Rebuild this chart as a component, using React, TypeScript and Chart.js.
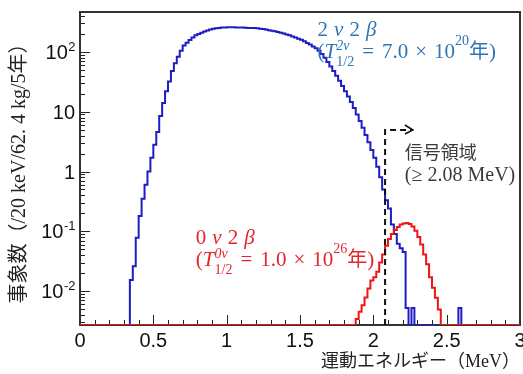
import React, { useEffect, useRef } from 'react';
import { Chart, registerables } from 'chart.js';

Chart.register(...registerables);

// ---------- data ----------
const NBINS = 150;
const BIN_WIDTH = 0.02; // MeV (20 keV bins)
const X_MIN = 0;
const X_MAX = 3;
const Y_MIN = 0.0027;
const Y_MAX = 467;

const xTickValues = [0, 0.5, 1, 1.5, 2, 2.5, 3];
const xTickLabels = ['0', '0.5', '1', '1.5', '2', '2.5', '3'];
const yTickValues = [0.01, 0.1, 1, 10, 100];
const yTickBase = ['10', '10', '1', '10', '10'];
const yTickExp = ['-2', '-1', '', '', '2'];

// 2νββ histogram: counts per bin, starting at bin BLUE_FIRST_BIN (0.34 MeV)
const BLUE_FIRST_BIN = 17;
const blueCounts = [
  0.0153, 0.026, 0.078, 0.18, 0.35, 0.6, 1.0, 1.7, 2.8, 4.6,
  8.5, 14, 22, 32, 48, 65, 83, 105, 128, 143,
  159, 175, 190, 200, 210, 221, 230, 237, 244, 250,
  253, 256, 258,
  260, 260, 259, 258, 257, 256, 254, 253, 252, 251,
  249, 246, 242, 237, 232, 227, 222, 216, 210, 204,
  197, 190, 182, 175, 167, 160, 151, 142, 133, 124,
  115, 105, 93, 80, 68, 57, 48, 40, 33, 27,
  22, 18, 14.5, 11.5, 9, 7, 5.4, 4.1, 3.1, 2.3,
  1.7, 1.2, 0.8, 0.5, 0.33, 0.24, 0.13, 0.09, 0.062, 0.052,
  0.045,
  0.0052, 0, 0.0052,
  0, 0, 0, 0, 0, 0, 0, 0, 0, 0, 0, 0, 0, 0, 0,
  0.0052,
];

// 0νββ histogram, starting at bin RED_FIRST_BIN (1.88 MeV)
const RED_FIRST_BIN = 94;
const redCounts = [
  0.0034, 0.0045, 0.0058, 0.0078, 0.011, 0.015, 0.017, 0.021, 0.030, 0.041,
  0.057, 0.074, 0.090, 0.105, 0.118, 0.130, 0.135, 0.137, 0.132, 0.120,
  0.102, 0.080, 0.060, 0.041, 0.028, 0.017, 0.0113, 0.0077, 0.0049,
];

const SIGNAL_THRESHOLD = 2.08; // MeV
const SIGNAL_LINE_TOP = 4.95; // y value where dashed line turns
const SIGNAL_ARROW_END = 2.27; // MeV

const yTitle = '事象数（/20 keV/62. 4 kg/5年）';
const xTitle = '運動エネルギー（MeV）';

// ---------- styles ----------
const BLUE_LINE = '#1d1dc6';
const RED_LINE = '#f01515';
const BLUE_TEXT = '#2e75b6';
const RED_TEXT = '#e3262b';
const SERIF = "'Liberation Serif', 'DejaVu Serif', 'Noto Sans CJK JP', serif";
const CJK = "'Noto Sans CJK JP', sans-serif";
const SANS = "'Liberation Sans', Arial, sans-serif";

function histPoints(first: number, counts: number[]) {
  const pts: { x: number; y: number }[] = [];
  for (let i = 0; i < NBINS; i++) {
    const j = i - first;
    const v = j >= 0 && j < counts.length ? counts[j] : 0;
    pts.push({ x: i * BIN_WIDTH, y: v > 0 ? v : Y_MIN });
  }
  pts.push({ x: NBINS * BIN_WIDTH, y: pts[pts.length - 1].y });
  return pts;
}

type Seg =
  | { t: string; size: number; italic?: boolean; dy?: number; family?: string; padL?: number; padR?: number }
  | { sup: string; sub: string; size: number; supDy: number; subDy: number };

function fontStr(size: number, italic?: boolean, family?: string) {
  return `${italic ? 'italic ' : ''}${size}px ${family || SERIF}`;
}

function drawRich(ctx: CanvasRenderingContext2D, x: number, y: number, segs: Seg[], color: string) {
  ctx.fillStyle = color;
  ctx.textAlign = 'left';
  ctx.textBaseline = 'alphabetic';
  let cx = x;
  for (const s of segs) {
    if ('sup' in s) {
      ctx.font = fontStr(s.size, true);
      const w1 = ctx.measureText(s.sup).width;
      ctx.fillText(s.sup, cx, y + s.supDy);
      ctx.font = fontStr(s.size, false);
      const w2 = ctx.measureText(s.sub).width;
      ctx.fillText(s.sub, cx, y + s.subDy);
      cx += Math.max(w1, w2);
    } else {
      ctx.font = fontStr(s.size, s.italic, s.family);
      cx += s.padL || 0;
      ctx.fillText(s.t, cx, y + (s.dy || 0));
      cx += ctx.measureText(s.t).width + (s.padR || 0);
    }
  }
}

const blueLine1: Seg[] = [
  { t: '2', size: 21 },
  { t: 'ν', size: 21, italic: true, padL: 6, padR: 6 },
  { t: '2', size: 21 },
  { t: 'β', size: 21, italic: true, padL: 6 },
];
const blueLine2: Seg[] = [
  { t: '(', size: 21 },
  { t: 'T', size: 21, italic: true },
  { sup: '2ν', sub: '1/2', size: 14, supDy: -8, subDy: 8 },
  { t: '=', size: 21, padL: 8, padR: 8 },
  { t: '7.0', size: 21 },
  { t: '×', size: 21, padL: 7, padR: 7 },
  { t: '10', size: 21 },
  { t: '20', size: 14, dy: -13 },
  { t: '年', size: 20, family: CJK },
  { t: ')', size: 21 },
];
const redLine1: Seg[] = [
  { t: '0', size: 21 },
  { t: 'ν', size: 21, italic: true, padL: 6, padR: 6 },
  { t: '2', size: 21 },
  { t: 'β', size: 21, italic: true, padL: 6 },
];
const redLine2: Seg[] = [
  { t: '(', size: 21 },
  { t: 'T', size: 21, italic: true },
  { sup: '0ν', sub: '1/2', size: 14, supDy: -8, subDy: 8 },
  { t: '=', size: 21, padL: 8, padR: 8 },
  { t: '1.0', size: 21 },
  { t: '×', size: 21, padL: 7, padR: 7 },
  { t: '10', size: 21 },
  { t: '26', size: 14, dy: -13 },
  { t: '年', size: 20, family: CJK },
  { t: ')', size: 21 },
];

// annotation anchors in data coordinates (MeV, events)
const BLUE_LABEL_AT = { x: 1.62, y: 185 };
const RED_LABEL_AT = { x: 0.79, y: 0.061 };
const SIGNAL_LABEL_AT = { x: 2.215, y: 1.65 };
const LINE_GAP = 22;

const framePlugin = {
  id: 'rootFrame',
  beforeDatasetsDraw(chart: any) {
    const { ctx, chartArea, scales } = chart;
    const { left, right, top, bottom } = chartArea;
    const xs = scales.x;
    const ys = scales.y;
    ctx.save();
    ctx.strokeStyle = '#222';
    ctx.lineWidth = 1;
    // x ticks (inside)
    for (let k = 0; k <= 30; k++) {
      const v = k / 10;
      const px = Math.round(xs.getPixelForValue(v)) + 0.5;
      const len = k % 5 === 0 ? 10 : 5;
      ctx.beginPath();
      ctx.moveTo(px, bottom);
      ctx.lineTo(px, bottom - len);
      ctx.stroke();
    }
    // y ticks (log, inside)
    for (let d = -3; d <= 2; d++) {
      for (let m = 1; m <= 9; m++) {
        const v = m * Math.pow(10, d);
        if (v < Y_MIN || v > Y_MAX) continue;
        const py = Math.round(ys.getPixelForValue(v)) + 0.5;
        const len = m === 1 ? 10 : 5;
        ctx.beginPath();
        ctx.moveTo(left, py);
        ctx.lineTo(left + len, py);
        ctx.stroke();
      }
    }
    ctx.lineWidth = 2;
    ctx.strokeStyle = '#333';
    ctx.strokeRect(left, top, right - left, bottom - top);

    // y tick labels with real superscripts
    ctx.fillStyle = '#111';
    ctx.textBaseline = 'alphabetic';
    ctx.textAlign = 'left';
    yTickValues.forEach((v, i) => {
      const py = ys.getPixelForValue(v);
      ctx.font = `13px ${SANS}`;
      const we = yTickExp[i] ? ctx.measureText(yTickExp[i]).width : 0;
      ctx.font = `20px ${SANS}`;
      const wb = ctx.measureText(yTickBase[i]).width;
      const x0 = left - 5 - we - wb;
      ctx.fillText(yTickBase[i], x0, py + 7);
      if (yTickExp[i]) {
        ctx.font = `13px ${SANS}`;
        ctx.fillText(yTickExp[i], x0 + wb + 0.5, py - 1);
      }
    });
    ctx.restore();
  },
  afterDatasetsDraw(chart: any) {
    const { ctx, chartArea, scales } = chart;
    const xs = scales.x;
    const ys = scales.y;
    ctx.save();
    // signal region dashed line + arrow
    const sx = xs.getPixelForValue(SIGNAL_THRESHOLD);
    const sy = ys.getPixelForValue(SIGNAL_LINE_TOP);
    const ex = xs.getPixelForValue(SIGNAL_ARROW_END);
    ctx.strokeStyle = '#111';
    ctx.lineWidth = 2;
    ctx.setLineDash([6, 4]);
    ctx.beginPath();
    ctx.moveTo(sx, chartArea.bottom);
    ctx.lineTo(sx, sy);
    ctx.lineTo(ex, sy);
    ctx.stroke();
    ctx.setLineDash([]);
    ctx.lineWidth = 1.5;
    ctx.beginPath();
    ctx.moveTo(ex - 8, sy - 5);
    ctx.lineTo(ex, sy);
    ctx.lineTo(ex - 8, sy + 4);
    ctx.stroke();

    // labels
    const bx = xs.getPixelForValue(BLUE_LABEL_AT.x);
    const by = ys.getPixelForValue(BLUE_LABEL_AT.y);
    drawRich(ctx, bx, by, blueLine1, BLUE_TEXT);
    drawRich(ctx, bx, by + LINE_GAP, blueLine2, BLUE_TEXT);

    const rx = xs.getPixelForValue(RED_LABEL_AT.x);
    const ry = ys.getPixelForValue(RED_LABEL_AT.y);
    drawRich(ctx, rx, ry, redLine1, RED_TEXT);
    drawRich(ctx, rx, ry + LINE_GAP, redLine2, RED_TEXT);

    const gx = xs.getPixelForValue(SIGNAL_LABEL_AT.x);
    const gy = ys.getPixelForValue(SIGNAL_LABEL_AT.y);
    ctx.fillStyle = '#3a3a3a';
    ctx.textAlign = 'left';
    ctx.textBaseline = 'alphabetic';
    ctx.font = `18px ${CJK}`;
    ctx.fillText('信号領域', gx, gy);
    ctx.font = `20px ${SERIF}`;
    ctx.fillText('(≥ 2.08 MeV)', gx, gy + LINE_GAP);
    ctx.restore();
  },
};

export default function App() {
  const ref = useRef<HTMLCanvasElement | null>(null);
  useEffect(() => {
    document.body.style.margin = '0';
    const canvas = ref.current;
    if (!canvas) return;
    const chart = new Chart(canvas, {
      type: 'line',
      data: {
        datasets: [
          {
            label: '0νββ',
            data: histPoints(RED_FIRST_BIN, redCounts),
            borderColor: RED_LINE,
            borderWidth: 2,
            pointRadius: 0,
            stepped: 'before',
            fill: false,
          },
          {
            label: '2νββ',
            data: histPoints(BLUE_FIRST_BIN, blueCounts),
            borderColor: BLUE_LINE,
            borderWidth: 2,
            pointRadius: 0,
            stepped: 'before',
            fill: false,
          },
        ],
      },
      options: {
        animation: false,
        responsive: false,
        maintainAspectRatio: false,
        parsing: false as any,
        layout: { padding: { top: 12, right: 3, left: 0, bottom: 0 } },
        plugins: { legend: { display: false }, tooltip: { enabled: false } },
        scales: {
          x: {
            type: 'linear',
            min: X_MIN,
            max: X_MAX,
            afterBuildTicks: (s: any) => {
              s.ticks = xTickValues.map((v) => ({ value: v }));
            },
            ticks: {
              autoSkip: false,
              maxRotation: 0,
              padding: 4,
              color: '#111',
              font: { family: SANS, size: 20 },
              callback: (_v: any, i: number) => xTickLabels[i],
            },
            grid: { display: false, drawTicks: false },
            border: { display: false },
            title: {
              display: true,
              text: xTitle,
              align: 'end',
              color: '#222',
              font: { family: SERIF, size: 18 },
              padding: { top: 0, bottom: 1 },
            },
            afterFit: (s: any) => {
              s.height = 49;
              s.paddingLeft = 0;
              s.paddingRight = 0;
            },
          },
          y: {
            type: 'logarithmic',
            min: Y_MIN,
            max: Y_MAX,
            afterBuildTicks: (s: any) => {
              s.ticks = yTickValues.map((v) => ({ value: v }));
            },
            ticks: { display: false },
            grid: { display: false, drawTicks: false },
            border: { display: false },
            title: {
              display: true,
              text: yTitle,
              color: '#222',
              font: { family: SERIF, size: 20 },
              padding: { top: 8, bottom: 0 },
            },
            afterFit: (s: any) => {
              s.width = 80;
              s.paddingTop = 0;
              s.paddingBottom = 0;
            },
          },
        },
      },
      plugins: [framePlugin],
    } as any);
    return () => chart.destroy();
  }, []);
  return (
    <div style={{ width: 523, height: 374, background: '#fff' }}>
      <canvas ref={ref} width={523} height={374} style={{ display: 'block' }} />
    </div>
  );
}
